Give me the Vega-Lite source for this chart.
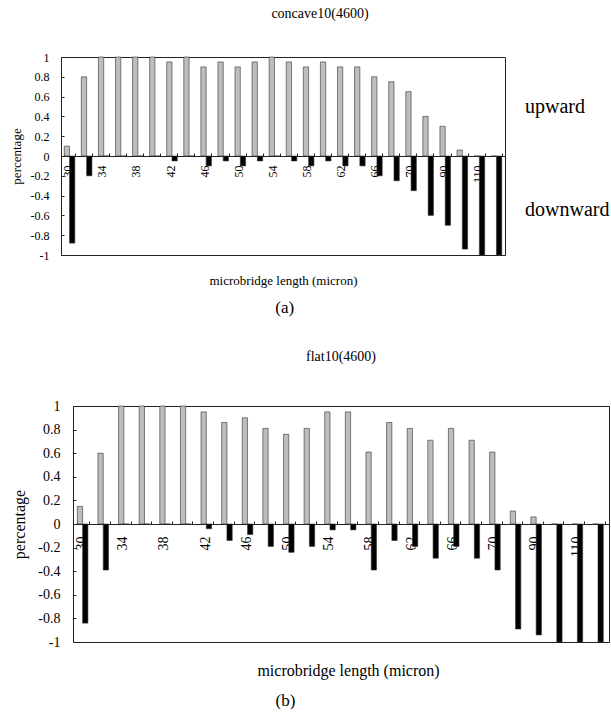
{
  "$schema": "https://vega.github.io/schema/vega-lite/v6.json",
  "padding": {"left": 9, "top": 6, "right": 0, "bottom": 0},
  "background": "white",
  "config": {
    "font": "Liberation Serif",
    "view": {"stroke": "#222", "strokeWidth": 1},
    "axis": {"labelColor": "black", "titleColor": "black", "tickColor": "#222", "domainColor": "#222", "titleFontWeight": "normal", "grid": false, "labelFont": "Liberation Serif", "titleFont": "Liberation Serif"},
    "title": {"color": "black", "fontWeight": "normal", "font": "Liberation Serif"}
  },
  "datasets": {
    "concave": [
      {"len": 30, "dir": "upward", "value": 0.1}, {"len": 30, "dir": "downward", "value": -0.88},
      {"len": 32, "dir": "upward", "value": 0.8}, {"len": 32, "dir": "downward", "value": -0.2},
      {"len": 34, "dir": "upward", "value": 1}, {"len": 34, "dir": "downward", "value": 0},
      {"len": 36, "dir": "upward", "value": 1}, {"len": 36, "dir": "downward", "value": 0},
      {"len": 38, "dir": "upward", "value": 1}, {"len": 38, "dir": "downward", "value": 0},
      {"len": 40, "dir": "upward", "value": 1}, {"len": 40, "dir": "downward", "value": 0},
      {"len": 42, "dir": "upward", "value": 0.95}, {"len": 42, "dir": "downward", "value": -0.05},
      {"len": 44, "dir": "upward", "value": 1}, {"len": 44, "dir": "downward", "value": 0},
      {"len": 46, "dir": "upward", "value": 0.9}, {"len": 46, "dir": "downward", "value": -0.1},
      {"len": 48, "dir": "upward", "value": 0.95}, {"len": 48, "dir": "downward", "value": -0.05},
      {"len": 50, "dir": "upward", "value": 0.9}, {"len": 50, "dir": "downward", "value": -0.1},
      {"len": 52, "dir": "upward", "value": 0.95}, {"len": 52, "dir": "downward", "value": -0.05},
      {"len": 54, "dir": "upward", "value": 1}, {"len": 54, "dir": "downward", "value": 0},
      {"len": 56, "dir": "upward", "value": 0.95}, {"len": 56, "dir": "downward", "value": -0.05},
      {"len": 58, "dir": "upward", "value": 0.9}, {"len": 58, "dir": "downward", "value": -0.1},
      {"len": 60, "dir": "upward", "value": 0.95}, {"len": 60, "dir": "downward", "value": -0.05},
      {"len": 62, "dir": "upward", "value": 0.9}, {"len": 62, "dir": "downward", "value": -0.1},
      {"len": 64, "dir": "upward", "value": 0.9}, {"len": 64, "dir": "downward", "value": -0.1},
      {"len": 66, "dir": "upward", "value": 0.8}, {"len": 66, "dir": "downward", "value": -0.2},
      {"len": 68, "dir": "upward", "value": 0.75}, {"len": 68, "dir": "downward", "value": -0.25},
      {"len": 70, "dir": "upward", "value": 0.65}, {"len": 70, "dir": "downward", "value": -0.35},
      {"len": 80, "dir": "upward", "value": 0.4}, {"len": 80, "dir": "downward", "value": -0.6},
      {"len": 90, "dir": "upward", "value": 0.3}, {"len": 90, "dir": "downward", "value": -0.7},
      {"len": 100, "dir": "upward", "value": 0.06}, {"len": 100, "dir": "downward", "value": -0.94},
      {"len": 110, "dir": "upward", "value": 0}, {"len": 110, "dir": "downward", "value": -1},
      {"len": 120, "dir": "upward", "value": 0}, {"len": 120, "dir": "downward", "value": -1}
    ],
    "flat": [
      {"len": 30, "dir": "upward", "value": 0.15}, {"len": 30, "dir": "downward", "value": -0.84},
      {"len": 32, "dir": "upward", "value": 0.6}, {"len": 32, "dir": "downward", "value": -0.39},
      {"len": 34, "dir": "upward", "value": 1}, {"len": 34, "dir": "downward", "value": 0},
      {"len": 36, "dir": "upward", "value": 1}, {"len": 36, "dir": "downward", "value": 0},
      {"len": 38, "dir": "upward", "value": 1}, {"len": 38, "dir": "downward", "value": 0},
      {"len": 40, "dir": "upward", "value": 1}, {"len": 40, "dir": "downward", "value": 0},
      {"len": 42, "dir": "upward", "value": 0.95}, {"len": 42, "dir": "downward", "value": -0.04},
      {"len": 44, "dir": "upward", "value": 0.86}, {"len": 44, "dir": "downward", "value": -0.14},
      {"len": 46, "dir": "upward", "value": 0.9}, {"len": 46, "dir": "downward", "value": -0.09},
      {"len": 48, "dir": "upward", "value": 0.81}, {"len": 48, "dir": "downward", "value": -0.19},
      {"len": 50, "dir": "upward", "value": 0.76}, {"len": 50, "dir": "downward", "value": -0.24},
      {"len": 52, "dir": "upward", "value": 0.81}, {"len": 52, "dir": "downward", "value": -0.19},
      {"len": 54, "dir": "upward", "value": 0.95}, {"len": 54, "dir": "downward", "value": -0.05},
      {"len": 56, "dir": "upward", "value": 0.95}, {"len": 56, "dir": "downward", "value": -0.05},
      {"len": 58, "dir": "upward", "value": 0.61}, {"len": 58, "dir": "downward", "value": -0.39},
      {"len": 60, "dir": "upward", "value": 0.86}, {"len": 60, "dir": "downward", "value": -0.14},
      {"len": 62, "dir": "upward", "value": 0.81}, {"len": 62, "dir": "downward", "value": -0.19},
      {"len": 64, "dir": "upward", "value": 0.71}, {"len": 64, "dir": "downward", "value": -0.29},
      {"len": 66, "dir": "upward", "value": 0.81}, {"len": 66, "dir": "downward", "value": -0.19},
      {"len": 68, "dir": "upward", "value": 0.71}, {"len": 68, "dir": "downward", "value": -0.29},
      {"len": 70, "dir": "upward", "value": 0.61}, {"len": 70, "dir": "downward", "value": -0.39},
      {"len": 80, "dir": "upward", "value": 0.11}, {"len": 80, "dir": "downward", "value": -0.89},
      {"len": 90, "dir": "upward", "value": 0.06}, {"len": 90, "dir": "downward", "value": -0.94},
      {"len": 100, "dir": "upward", "value": 0}, {"len": 100, "dir": "downward", "value": -1},
      {"len": 110, "dir": "upward", "value": 0}, {"len": 110, "dir": "downward", "value": -1},
      {"len": 120, "dir": "upward", "value": 0}, {"len": 120, "dir": "downward", "value": -1}
    ]
  },
  "spacing": 34,
  "bounds": "full",
  "resolve": {"legend": {"color": "independent"}, "scale": {"color": "independent"}},
  "vconcat": [
    {
      "title": {"text": "(a)", "orient": "bottom", "anchor": "middle", "fontSize": 17, "offset": 12, "dx": -25},
      "vconcat": [
        {
          "width": 444,
          "height": 198,
          "title": {"text": "concave10(4600)", "fontSize": 14, "anchor": "middle", "frame": "group", "dx": 37, "offset": 30},
          "data": {"name": "concave"},
          "mark": {"type": "bar", "stroke": "#333", "strokeWidth": 0.6},
          "encoding": {
            "x": {
              "field": "len", "type": "ordinal", "sort": "ascending",
              "scale": {"paddingInner": 0.38, "paddingOuter": 0.19},
              "axis": {
                "title": "microbridge length (micron)", "titleFontSize": 13, "titleY": 118,
                "offset": -99, "labelAngle": -90, "labelFontSize": 12, "labelPadding": 12, "labelOffset": -2,
                "labelExpr": "indexof([30,34,38,42,46,50,54,58,62,66,70,90,110], datum.value) >= 0 ? datum.label : ''",
                "tickBand": "extent", "tickSize": -3
              }
            },
            "xOffset": {"field": "dir", "type": "nominal", "sort": ["upward", "downward"]},
            "y": {
              "field": "value", "type": "quantitative",
              "scale": {"domain": [-1, 1], "nice": false},
              "axis": {
                "title": "percentage", "titleFontSize": 13, "titlePadding": 7,
                "values": [-1, -0.8, -0.6, -0.4, -0.2, 0, 0.2, 0.4, 0.6, 0.8, 1],
                "labelExpr": "'' + datum.value", "labelFontSize": 12, "tickSize": -3, "labelPadding": 15, "domain": false
              }
            },
            "color": {
              "field": "dir", "type": "nominal",
              "scale": {"domain": ["upward", "downward"], "range": ["#bdbdbd", "#000000"]},
              "legend": {
                "orient": "none", "legendX": 444, "legendY": 40, "title": null,
                "symbolSize": 0, "symbolOpacity": 0, "symbolStrokeWidth": 0,
                "labelFontSize": 20, "labelFont": "Liberation Serif", "labelAlign": "left", "labelOffset": 0,
                "rowPadding": 83, "labelColor": "black", "labelLimit": 0
              }
            }
          }
        }
      ]
    },
    {
      "title": {"text": "(b)", "orient": "bottom", "anchor": "middle", "fontSize": 17, "offset": 15, "dx": -25},
      "vconcat": [
        {
          "width": 548,
          "height": 236,
          "view": {"stroke": null},
          "title": {"text": "flat10(4600)", "fontSize": 14, "anchor": "middle", "frame": "group", "dx": 6, "offset": 35},
          "data": {"name": "flat"},
          "resolve": {"axis": {"x": "independent", "y": "independent"}},
          "layer": [
            {
              "mark": {"type": "bar", "stroke": "#333", "strokeWidth": 0.6},
              "encoding": {
                "x": {
                  "field": "len", "type": "ordinal", "sort": "ascending",
                  "scale": {"range": [12, 548], "paddingInner": 0.42, "paddingOuter": 0.21},
                  "axis": {
                    "orient": "bottom",
                    "title": "microbridge length (micron)", "titleFontSize": 16, "titleY": 138, "titleX": 287,
                    "offset": -118, "labelAngle": -90, "labelFontSize": 14, "labelPadding": 15, "labelOffset": -2,
                    "labelExpr": "indexof([30,34,38,42,46,50,54,58,62,66,70,90,110], datum.value) >= 0 ? datum.label : ''",
                    "tickBand": "extent", "tickSize": -3
                  }
                },
                "xOffset": {"field": "dir", "type": "nominal", "sort": ["upward", "downward"]},
                "y": {
                  "field": "value", "type": "quantitative",
                  "scale": {"domain": [-1, 1], "nice": false},
                  "axis": {
                    "orient": "left", "offset": -12,
                    "title": "percentage", "titleFontSize": 16, "titlePadding": 10,
                    "values": [-1, -0.8, -0.6, -0.4, -0.2, 0, 0.2, 0.4, 0.6, 0.8, 1],
                    "labelExpr": "'' + datum.value", "labelFontSize": 14, "tickSize": -3, "labelPadding": 16, "domain": true
                  }
                },
                "color": {
                  "field": "dir", "type": "nominal",
                  "scale": {"domain": ["upward", "downward"], "range": ["#bdbdbd", "#000000"]},
                  "legend": null
                }
              }
            },
            {
              "mark": {"type": "bar", "opacity": 0},
              "encoding": {
                "x": {
                  "field": "len", "type": "ordinal", "sort": "ascending",
                  "axis": {"orient": "top", "title": null, "labels": false, "ticks": false, "domain": true}
                },
                "xOffset": {"field": "dir", "type": "nominal", "sort": ["upward", "downward"]},
                "y": {
                  "field": "value", "type": "quantitative",
                  "axis": {"orient": "right", "title": null, "labels": false, "ticks": false, "domain": true}
                }
              }
            },
            {
              "mark": {"type": "bar", "opacity": 0},
              "encoding": {
                "x": {
                  "field": "len", "type": "ordinal", "sort": "ascending",
                  "axis": {"orient": "bottom", "title": null, "labels": false, "ticks": false, "domain": true}
                },
                "xOffset": {"field": "dir", "type": "nominal", "sort": ["upward", "downward"]},
                "y": {"field": "value", "type": "quantitative", "axis": null}
              }
            }
          ]
        }
      ]
    }
  ]
}
